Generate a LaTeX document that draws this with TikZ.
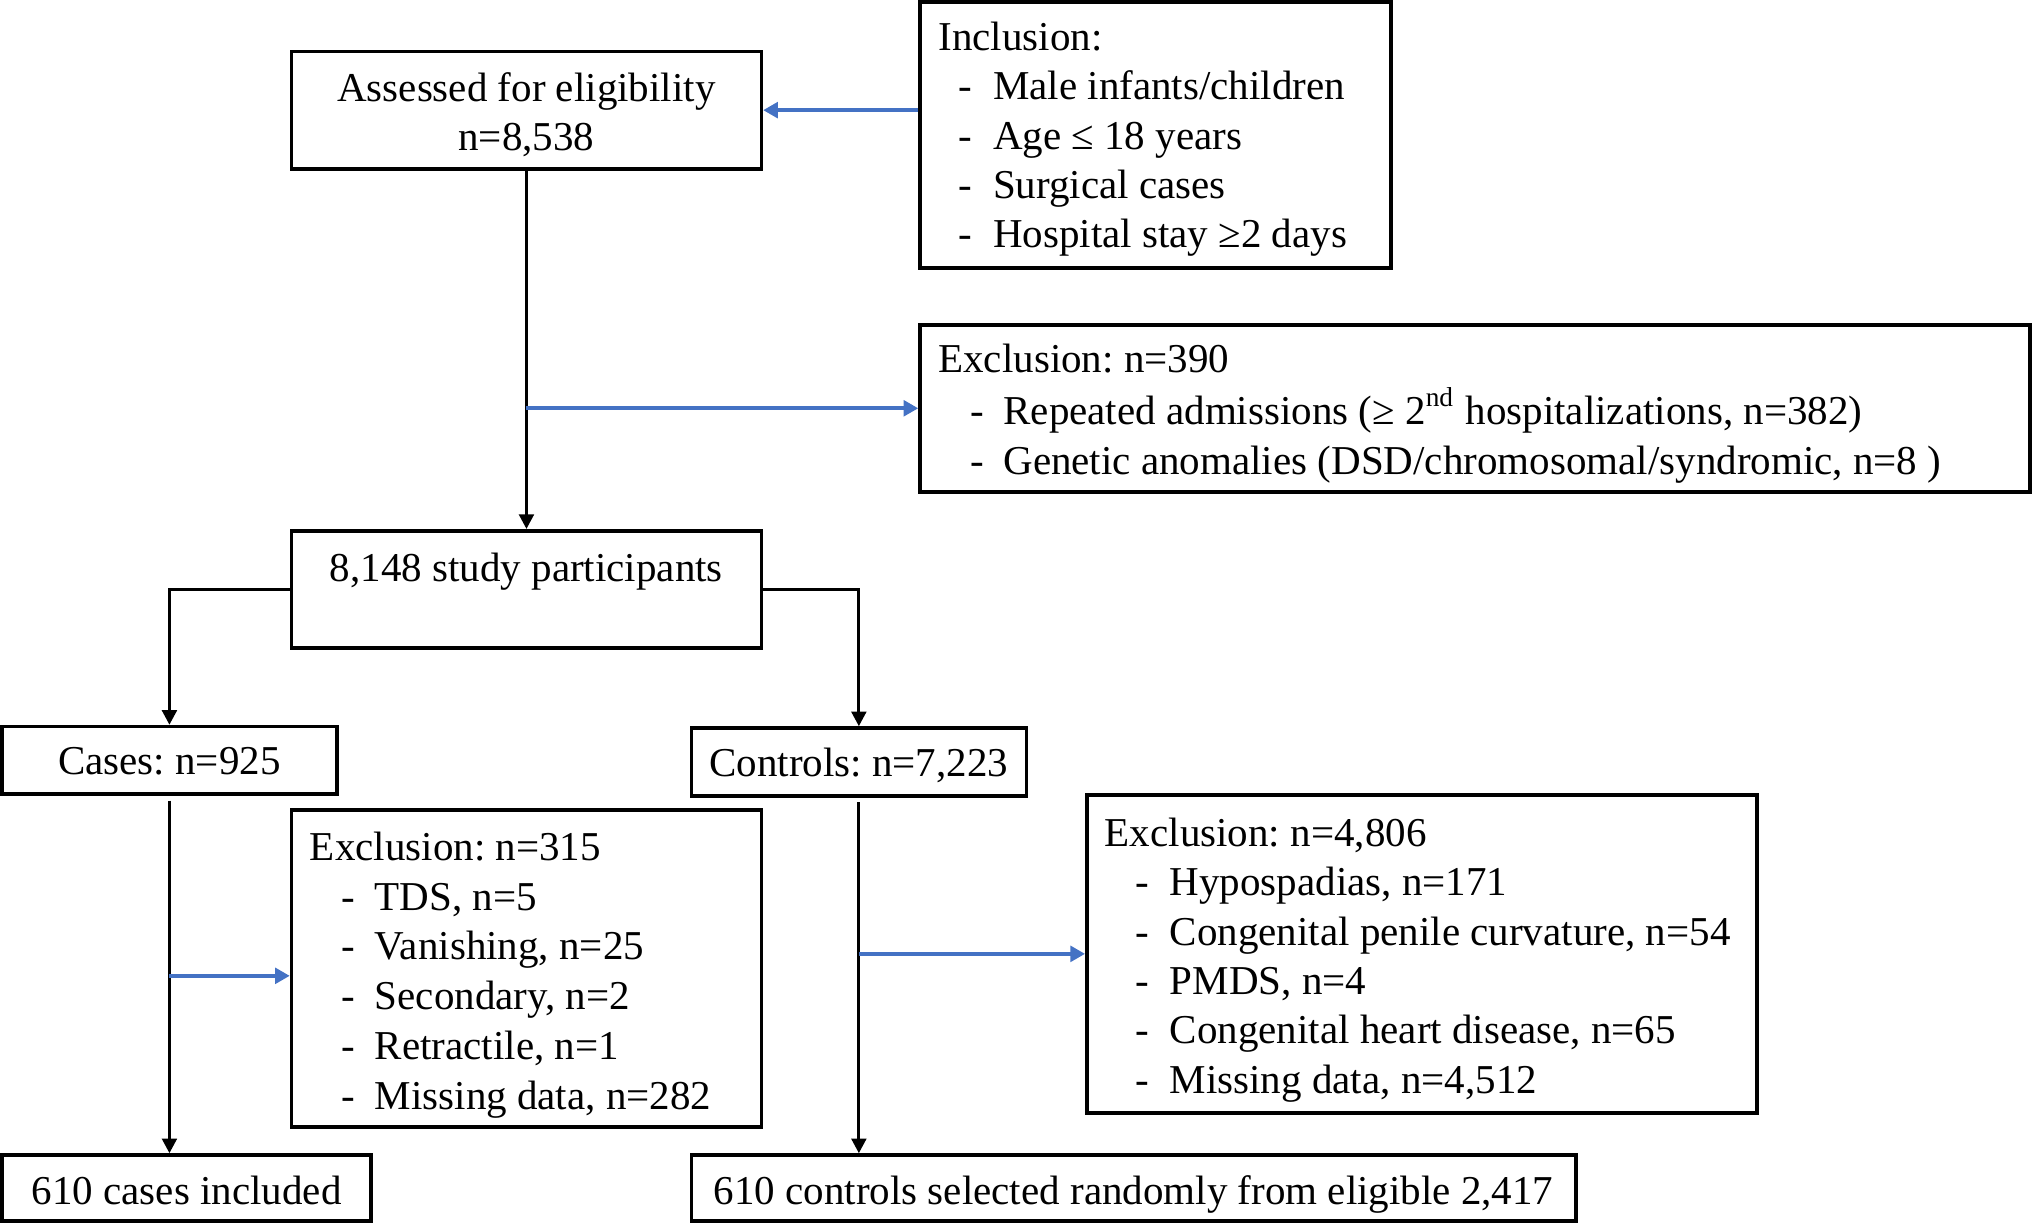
\documentclass[tikz,border=0pt]{standalone}
\usepackage{fontspec}
\setmainfont{Liberation Serif}
\usetikzlibrary{arrows.meta,fit,calc}
\definecolor{arrowblue}{RGB}{68,114,196}
\newcommand\ditem[2]{\hspace*{#1}\makebox[#2][l]{-}}
\frenchspacing
\begin{document}
\frenchspacing
\begin{tikzpicture}[x=0.01cm,y=-0.01cm,
  box/.style={draw,line width=0.8pt,inner sep=0pt},
  flow/.style={line width=0.7pt,-{Triangle[length=3.2pt,width=3.2pt]}},
  blueflow/.style={line width=0.8pt,draw=arrowblue,fill=arrowblue,-{Triangle[length=3.2pt,width=3.4pt]}},
  lbl/.style={inner sep=0pt,anchor=base,font=\fontsize{9}{10.84}\selectfont},
  lst/.style={inner sep=0pt,anchor=base west}]
\useasboundingbox (0,0) rectangle (1568,945);

% boxes
\node[box,fit={(225,39.8) (587.5,130.4)}] (assess) {};
\node[box,fit={(710,1.5) (1073.4,207)}] (incl) {};
\node[box,fit={(710,250.6) (1566.5,379.5)}] (excl1) {};
\node[box,fit={(225,409.6) (587.5,500)}] (part) {};
\node[box,fit={(1.5,560.7) (260,612.9)}] (cases) {};
\node[box,fit={(533.5,561.8) (792,614)}] (controls) {};
\node[box,fit={(225,625) (587.5,869.4)}] (ex315) {};
\node[box,fit={(838.7,613.5) (1355.6,858.6)}] (ex4806) {};
\node[box,fit={(1.5,891.3) (286.5,942)}] (c610) {};
\node[box,fit={(533.5,891.3) (1216,942)}] (k610) {};

% single-line texts
\node[lbl] (assesst1) at (406.2,78.3) {Assessed for eligibility};
\node[lbl] (assesst2) at (406.2,116) {n=8,538};
\node[lbl] (partt) at (406.2,448.7) {8,148 study participants};
\node[lbl] (casest) at (130.7,597.8) {Cases: n=925};
\node[lbl] (controlst) at (662.7,599.4) {Controls: n=7,223};
\node[lbl] (c610t) at (144,929.5) {610 cases included};
\node[lbl] (k610t) at (874.7,929.5) {610 controls selected randomly from eligible 2,417};

% list texts
\node[lst] (inclt) at (723.4,39.1) {\fontsize{9}{10.81}\selectfont\begin{tabular}[t]{@{}l@{}}
Inclusion:\\
\ditem{4.44pt}{7.57pt}Male infants/children\\
\ditem{4.44pt}{7.57pt}Age ≤ 18 years\\
\ditem{4.44pt}{7.57pt}Surgical cases\\
\ditem{4.44pt}{7.57pt}Hospital stay ≥2 days
\end{tabular}};

\node[lst] (excl1t) at (723.4,287.5) {\fontsize{9}{11.1}\selectfont\begin{tabular}[t]{@{}l@{}}
Exclusion: n=390\\
\ditem{7.14pt}{7.14pt}Repeated admissions (≥ 2\textsuperscript{nd} hospitalizations, n=382)\\
\ditem{7.14pt}{7.14pt}Genetic anomalies (DSD/chromosomal/syndromic, n=8 )
\end{tabular}};

\node[lst] (ex315t) at (238.5,663.9) {\fontsize{9}{10.92}\selectfont\begin{tabular}[t]{@{}l@{}}
Exclusion: n=315\\
\ditem{6.83pt}{7.4pt}TDS, n=5\\
\ditem{6.83pt}{7.4pt}Vanishing, n=25\\
\ditem{6.83pt}{7.4pt}Secondary, n=2\\
\ditem{6.83pt}{7.4pt}Retractile, n=1\\
\ditem{6.83pt}{7.4pt}Missing data, n=282
\end{tabular}};

\node[lst] (ex4806t) at (851.9,653.1) {\fontsize{9}{10.84}\selectfont\begin{tabular}[t]{@{}l@{}}
Exclusion: n=4,806\\
\ditem{6.8pt}{7.45pt}Hypospadias, n=171\\
\ditem{6.8pt}{7.45pt}Congenital penile curvature, n=54\\
\ditem{6.8pt}{7.45pt}PMDS, n=4\\
\ditem{6.8pt}{7.45pt}Congenital heart disease, n=65\\
\ditem{6.8pt}{7.45pt}Missing data, n=4,512
\end{tabular}};

% connectors
\coordinate (i1) at (710,85);
\draw[blueflow] (incl.west |- i1) -- (assess.east |- i1);
\draw[flow] (assess.south) -- (part.north);
\draw[blueflow] (assess.south |- excl1.west) -- (excl1.west);
\draw[flow] (part.west) -| (cases.north);
\draw[flow] (part.east) -| (controls.north);
\draw[flow] ([yshift=-1pt]cases.south) -- (cases.south |- c610.north);
\draw[blueflow] (cases.south |- 0,753) -- (ex315.west |- 0,753);
\draw[flow] ([yshift=-1pt]controls.south) -- (controls.south |- k610.north);
\draw[blueflow] (controls.south |- ex4806.west) -- (ex4806.west);
\end{tikzpicture}
\end{document}
